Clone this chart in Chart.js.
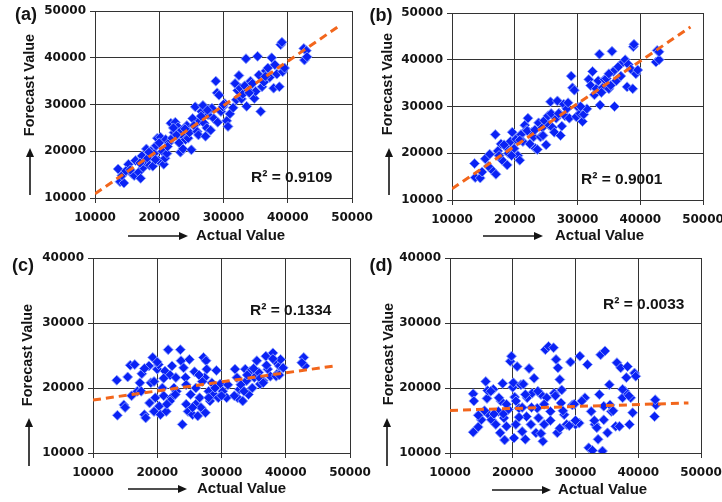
<!DOCTYPE html>
<html><head><meta charset="utf-8">
<script src="https://cdn.jsdelivr.net/npm/chart.js@4.4.1/dist/chart.umd.min.js"></script>
<style>
html,body{margin:0;padding:0;background:#fff;}
#wrap{position:relative;width:722px;height:502px;overflow:hidden;background:#fff}
#wrap canvas{position:absolute;left:0;top:0}
</style></head><body>
<div id="wrap">
<canvas id="ca" width="722" height="502"></canvas>
<canvas id="cb" width="722" height="502"></canvas>
<canvas id="cc" width="722" height="502"></canvas>
<canvas id="cd" width="722" height="502"></canvas>
</div>
<script>
// ---------- data ----------
const xTickValues = [10000, 20000, 30000, 40000, 50000];
const yTickValuesAB = [10000, 20000, 30000, 40000, 50000];
const yTickValuesCD = [10000, 20000, 30000, 40000];
const panelLabels = ['(a)', '(b)', '(c)', '(d)'];
const r2Labels = ['R\u00B2 = 0.9109', 'R\u00B2 = 0.9001', 'R\u00B2 = 0.1334', 'R\u00B2 = 0.0033'];
const xAxisTitle = 'Actual Value';
const yAxisTitle = 'Forecast Value';

const actualA = [13600,13900,14500,14200,15200,15800,16100,16300,16800,17100,17300,17500,17800,18000,18200,18500,18700,19000,19200,19500,19700,19900,20200,20500,20700,20900,21000,21200,21500,21800,22000,22300,22500,22700,22900,23100,23300,23500,23700,23900,24100,24300,24500,24700,25000,25200,25400,25600,25900,26100,26300,26600,26800,27000,27200,27400,27600,27800,28000,28200,28500,28800,29000,29100,29300,29600,29900,30200,30500,30700,31000,31500,31800,32000,32200,32400,32600,32800,33000,33300,33500,33600,33900,34200,34500,34800,35000,35300,35500,35800,36000,36300,36600,36900,37200,37500,37800,38000,38300,38700,38900,39100,39200,39500,42500,42600,42900,43000,14800,15500,17000,18400,19400,20000,21300,22200,24000,26500,27500,30000,34000,36500];
const forecastA = [16200,13500,13200,14800,17200,15200,14800,18000,15500,14200,19000,16500,17800,20500,18500,17000,20000,16800,19500,21200,22800,18000,23000,20000,17200,18500,22500,19500,21800,26000,22800,24000,26200,23500,25200,21800,19800,24500,20500,23000,22500,25500,22800,24000,20300,27000,25500,29500,24200,23500,26500,28500,29800,26000,23200,25000,27800,29000,24500,29200,27000,35000,32500,26200,32000,28500,29500,30200,26500,25300,28000,29300,34500,31000,33000,36200,33500,31200,32200,34000,39800,29600,33000,35000,34500,31300,32800,40300,36300,28500,33800,34800,37200,37800,35800,40000,33500,38500,36500,33800,42800,43300,37000,37800,42000,39500,41500,40200,15800,16000,17500,19800,18200,21800,21000,25000,24800,27500,28800,30000,32500,36000];

const actualB = [13600,13700,14500,15300,16000,16300,16900,17000,17300,17800,18000,18500,18800,19000,19300,19600,19900,20200,20500,20800,21000,21300,21600,21900,22100,22400,22700,23000,23300,23600,23800,24100,24400,24700,25000,25300,25500,25700,26000,26300,26600,26800,27100,27300,27500,27800,28000,28300,28700,29000,29200,29500,29800,30100,30400,30800,31000,31500,31800,32100,32400,32700,33000,33300,33500,33600,34000,34300,34600,35000,35300,35500,35700,35900,36200,36500,36900,37300,37600,37900,38100,38500,38800,38900,39000,39300,39600,42500,42700,43000,43000,14800,15800,17500,18300,19500,20800,22000,23200,24500,25800,27000,28500,30500,33800,35000];
const forecastB = [17800,14800,14700,18800,19800,16500,24000,15500,20500,22000,18500,21500,17500,20000,22500,24500,21000,23000,19500,18500,24000,22500,26000,25000,27500,22000,24500,23500,21000,20800,26500,23500,25500,27000,21800,28000,26000,31000,25500,24500,27500,31200,28500,23800,25800,30500,28000,29500,27500,36500,34000,33500,27800,29800,28500,26800,28300,29500,35800,34500,37500,32500,33800,35500,41200,30300,34000,35800,36000,33800,34500,41800,37500,30000,35500,38500,36500,39500,40000,34200,39000,38000,33800,42800,43300,37000,37800,39500,42000,40000,41700,16000,17200,19500,21800,19500,22800,24800,25000,23800,28500,28500,30800,30000,33000,37000];

const actualC = [13700,13800,14800,15400,15800,16500,16900,17300,17600,18000,18200,18700,18800,19000,19300,19500,19700,20000,20200,20300,20500,20800,21000,21200,21400,21700,22000,22200,22300,22600,22900,23600,23700,23900,24100,24400,24500,24800,25000,25200,25500,25800,26000,26300,26600,26800,27200,27400,27600,27700,28000,28200,28500,28800,29200,29500,29800,30200,30800,32100,32400,32500,32800,33300,33700,33900,34200,34500,34800,35100,35500,35800,36000,36500,36900,37200,37600,38000,38300,38600,39000,39200,39600,42800,43000,42500,20000,21000,23000,22000,24500,26000,27000,28000,29000,31000,33000,34000,35000,36000,37000,38500,16000,15000,17500,19500,18000,21500,22800,25500,27500,26500,30000,32000,33500,36500,38000,39000];
const forecastC = [21200,15800,17400,21700,23500,23600,19500,20800,22200,15900,15400,23400,17700,20800,24700,16400,18500,22900,23600,17200,15900,20000,18800,22600,16400,25900,22000,18500,23400,20000,21600,25900,24200,14400,23100,21600,17500,16400,24400,19000,15900,22500,17500,15700,18500,17000,24700,21600,24200,22900,19500,18000,20800,19000,22700,18500,20600,19500,18500,22900,21600,18500,19800,18000,22900,21100,19000,22600,20000,21600,24200,22400,20600,21100,24900,22900,21800,25400,24200,22100,23400,24400,23100,24700,23400,23900,24000,21500,19500,18000,20500,20000,21000,18500,20000,20500,20500,22000,23000,21500,23500,21800,18800,17000,19500,21000,23000,17500,19000,17000,16200,22000,18800,18800,19500,20800,24500,22000];

const actualD = [13700,13800,13700,14500,15000,15700,15900,16000,16200,16600,16900,17300,17700,18000,18100,18400,18600,18700,19000,19300,19600,19800,20000,20100,20200,20300,20500,20700,21000,21300,21500,21700,22000,22200,22300,22600,22900,23100,23400,23700,23900,24100,24500,24800,25000,25200,25400,25700,26000,26500,26600,26900,27100,27200,27500,27700,27800,28200,28600,29200,29500,30000,30600,30700,31500,31900,32100,32500,32700,33100,33400,33600,33800,34000,34300,34500,34700,35100,35400,35500,35700,36400,36600,37000,37200,37500,37900,38100,38300,38600,38800,39100,39400,39600,42600,42800,42700,14500,15500,17000,17800,19000,20500,21000,22000,23000,24000,25000,26000,26800,28000,29000,30000,31000,33000,34500,36000,37500,38500,16500,18500,21500,24500,27500,29800];
const forecastD = [19100,18000,13200,14000,15100,21000,18400,19600,15900,15100,19800,14400,16400,13100,18000,20700,15400,12000,14100,16700,24100,24900,20100,20800,12300,18600,14400,23300,16900,20500,13300,20600,12100,15600,18500,23000,14400,19200,21500,13100,16900,15400,19000,11800,14400,25900,18500,26400,16400,26200,19200,24400,13100,23100,21300,17700,19700,15900,14400,24000,17400,14400,14600,24900,18500,23600,10800,16400,10400,14400,13900,12100,19000,25100,10300,15100,25700,13100,20500,17400,16400,14100,23900,14100,23100,18500,19500,21600,23300,14400,18500,16200,22300,21800,15600,17400,18200,15800,16500,16000,18500,17500,18000,15500,19000,17000,19500,17500,15000,18800,16500,14200,15000,18000,15000,17200,16500,19800,18800,19500,16000,17000,13000,13800,17500];

// linear trend lines (end points)
const trendXA = [10000, 48000]; const trendYA = [10900, 46800];
const trendXB = [10000, 48000]; const trendYB = [12400, 47000];
const trendXC = [10000, 47600]; const trendYC = [18150, 23400];
const trendXD = [10000, 48000]; const trendYD = [16550, 17700];

// ---------- layout / style ----------
const W = 722, H = 502, YW = 60, XH = 30;
const panels = [
  { id:'ca', actual:actualA, forecast:forecastA, tx:trendXA, ty:trendYA, yTicks:yTickValuesAB,
    plot:{l:95,t:11,r:352,b:198}, label:[26,15], r2:[251,178], yTitle:[30,85], up:[30,195,30,148], right:[128,236,188,236], xTitle:[196,236] },
  { id:'cb', actual:actualB, forecast:forecastB, tx:trendXB, ty:trendYB, yTicks:yTickValuesAB,
    plot:{l:452,t:13,r:703,b:200}, label:[381,16], r2:[581,180], yTitle:[388,84], up:[389,195,389,148], right:[483,236,543,236], xTitle:[555,236] },
  { id:'cc', actual:actualC, forecast:forecastC, tx:trendXC, ty:trendYC, yTicks:yTickValuesCD,
    plot:{l:93,t:258,r:350,b:453}, label:[23,266], r2:[250,311], yTitle:[28,355], up:[29,466,29,418], right:[128,489,187,489], xTitle:[197,489] },
  { id:'cd', actual:actualD, forecast:forecastD, tx:trendXD, ty:trendYD, yTicks:yTickValuesCD,
    plot:{l:450,t:258,r:701,b:453}, label:[381,266], r2:[603,305], yTitle:[389,354], up:[387,466,387,418], right:[492,490,551,490], xTitle:[558,490] }
];

const TEXT = '#141414';
const GRID = '#333333';
const tickFont = { family:'"DejaVu Sans", sans-serif', weight:'bold', size:12 };

function arrow(ctx, x1, y1, x2, y2) {
  const a = Math.atan2(y2 - y1, x2 - x1), hl = 9, hw = 4;
  ctx.beginPath(); ctx.moveTo(x1, y1);
  ctx.lineTo(x2 - Math.cos(a) * hl * 0.8, y2 - Math.sin(a) * hl * 0.8); ctx.stroke();
  ctx.beginPath(); ctx.moveTo(x2, y2);
  ctx.lineTo(x2 - Math.cos(a) * hl - Math.sin(a) * hw, y2 - Math.sin(a) * hl + Math.cos(a) * hw);
  ctx.lineTo(x2 - Math.cos(a) * hl + Math.sin(a) * hw, y2 - Math.sin(a) * hl - Math.cos(a) * hw);
  ctx.closePath(); ctx.fill();
}

const decor = {
  id: 'decor',
  afterDraw(chart, args, o) {
    const ctx = chart.ctx; const p = o.p;
    ctx.save();
    ctx.fillStyle = TEXT; ctx.strokeStyle = TEXT; ctx.lineWidth = 1.6;
    ctx.save();
    ctx.translate(p.yTitle[0], p.yTitle[1]); ctx.rotate(-Math.PI / 2);
    ctx.font = 'bold 14.5px "Liberation Sans", Arial, sans-serif';
    ctx.textAlign = 'center'; ctx.textBaseline = 'middle';
    ctx.fillText(yAxisTitle, 0, 0);
    ctx.restore();
    arrow(ctx, p.up[0], p.up[1], p.up[2], p.up[3]);
    arrow(ctx, p.right[0], p.right[1], p.right[2], p.right[3]);
    ctx.font = 'bold 15px "Liberation Sans", Arial, sans-serif';
    ctx.textAlign = 'left'; ctx.textBaseline = 'middle';
    ctx.fillText(xAxisTitle, p.xTitle[0], p.xTitle[1]);
    ctx.font = 'bold 18px "Liberation Sans", Arial, sans-serif';
    ctx.textAlign = 'center';
    ctx.fillText(o.label, p.label[0], p.label[1]);
    ctx.font = 'bold 15.5px "Liberation Sans", Arial, sans-serif';
    ctx.textAlign = 'left';
    ctx.fillText(o.r2, p.r2[0], p.r2[1]);
    ctx.restore();
  }
};

panels.forEach((p, i) => {
  const pts = p.actual.map((x, k) => ({ x, y: p.forecast[k] }));
  const trend = p.tx.map((x, k) => ({ x, y: p.ty[k] }));
  const yMax = p.yTicks[p.yTicks.length - 1];
  new Chart(document.getElementById(p.id), {
    type: 'scatter',
    data: { datasets: [
      { type:'line', data: trend, borderColor:'#f2661c', borderWidth:3, borderDash:[8,5],
        pointRadius:0, fill:false, order:0 },
      { data: pts, pointStyle:'rectRot', pointRadius:5, pointHoverRadius:5,
        backgroundColor:'#0a22f5', borderColor:'rgba(140,160,255,0.9)', borderWidth:1, order:1 }
    ]},
    options: {
      responsive:false, animation:false, devicePixelRatio:1,
      layout: { padding: { left: p.plot.l - YW, top: p.plot.t, right: W - p.plot.r, bottom: H - p.plot.b - XH } },
      plugins: { legend:{display:false}, tooltip:{enabled:false},
        decor: { p: p, label: panelLabels[i], r2: r2Labels[i] } },
      scales: {
        x: { type:'linear', min:10000, max:50000,
          afterBuildTicks: s => { s.ticks = xTickValues.map(v => ({ value: v })); },
          afterFit: s => { s.height = XH; s.paddingLeft = 0; s.paddingRight = 0; },
          ticks: { font: tickFont, color: TEXT, padding: 8, maxRotation:0, autoSkip:false, callback: v => String(v) },
          grid: { color: GRID, lineWidth: 1, tickLength: 5 },
          border: { color: GRID, width: 1 } },
        y: { type:'linear', min:10000, max:yMax,
          afterBuildTicks: s => { s.ticks = p.yTicks.map(v => ({ value: v })); },
          afterFit: s => { s.width = YW; s.paddingTop = 0; s.paddingBottom = 0; },
          ticks: { font: tickFont, color: TEXT, padding: 4, autoSkip:false, callback: v => String(v) },
          grid: { color: GRID, lineWidth: 1, tickLength: 5 },
          border: { color: GRID, width: 1 } }
      }
    },
    plugins: [decor]
  });
});
</script>
</body></html>
